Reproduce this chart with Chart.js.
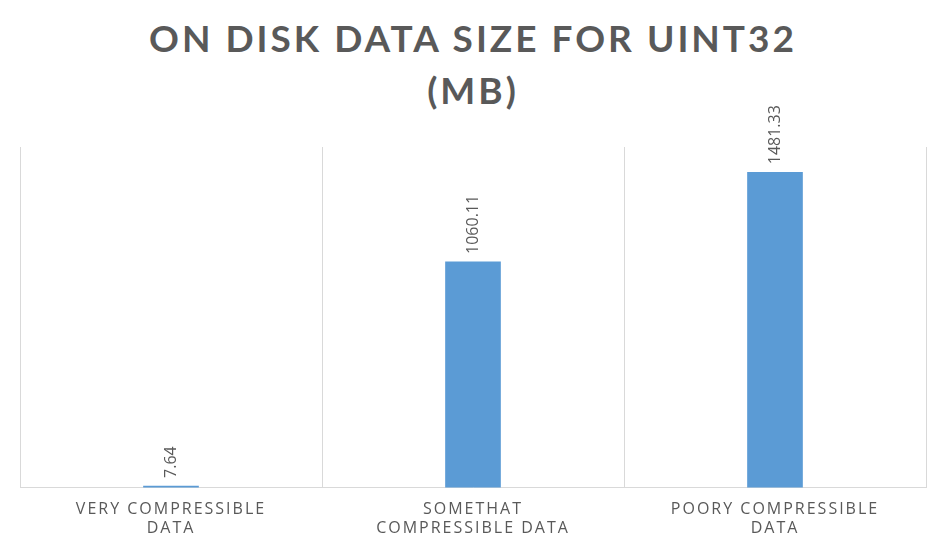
<!DOCTYPE html>
<html><head><meta charset="utf-8">
<script src="https://cdn.jsdelivr.net/npm/chart.js@4"></script>
<style>
html,body{margin:0;padding:0;background:#fff;}
#wrap{position:relative;width:946px;height:560px;}
#title{position:absolute;left:0;top:12px;width:946px;text-align:center;font:bold 37px Lato,'Open Sans',sans-serif;letter-spacing:3px;color:#595959;line-height:52px;}
canvas{position:absolute;left:0;top:0;}
</style></head>
<body><div id="wrap"><div id="title">ON DISK DATA SIZE FOR UINT32<br>(MB)</div><canvas id="c" width="946" height="560"></canvas></div>
<script>
const categories = [['VERY COMPRESSIBLE', 'DATA'], ['SOMETHAT', 'COMPRESSIBLE DATA'], ['POORY COMPRESSIBLE', 'DATA']];
const sizes = [7.64, 1060.11, 1481.33];
const yMax = 1600;

const spacing = {
  id: 'spacing',
  beforeInit(chart) { chart.ctx.letterSpacing = '2px'; },
  beforeDraw(chart) { chart.ctx.letterSpacing = '2px'; },
};

const valueLabels = {
  id: 'valueLabels',
  afterDatasetsDraw(chart) {
    const ctx = chart.ctx;
    const meta = chart.getDatasetMeta(0);
    ctx.save();
    ctx.letterSpacing = '0px';
    ctx.fillStyle = '#595959';
    ctx.font = '16px "Open Sans", sans-serif';
    ctx.textAlign = 'left';
    ctx.textBaseline = 'middle';
    meta.data.forEach((bar, i) => {
      ctx.save();
      ctx.translate(bar.x, bar.y - 8);
      ctx.rotate(-Math.PI / 2);
      ctx.fillText(sizes[i].toFixed(2), 0, 0);
      ctx.restore();
    });
    ctx.restore();
  }
};

new Chart(document.getElementById('c'), {
  type: 'bar',
  data: { labels: categories, datasets: [{ data: sizes, backgroundColor: '#5b9bd5', barThickness: 55 }] },
  options: {
    responsive: false, animation: false,
    layout: { padding: { top: 147, left: 20, right: 20, bottom: 10 } },
    plugins: { legend: { display: false }, tooltip: { enabled: false } },
    scales: {
      x: {
        grid: { color: '#d9d9d9', offset: true, drawTicks: false },
        border: { color: '#d9d9d9' },
        ticks: { color: '#595959', font: { size: 16, family: '"Open Sans", sans-serif' }, padding: 12, maxRotation: 0 }
      },
      y: { display: false, min: 0, max: yMax }
    }
  },
  plugins: [spacing, valueLabels]
});
</script></body></html>
